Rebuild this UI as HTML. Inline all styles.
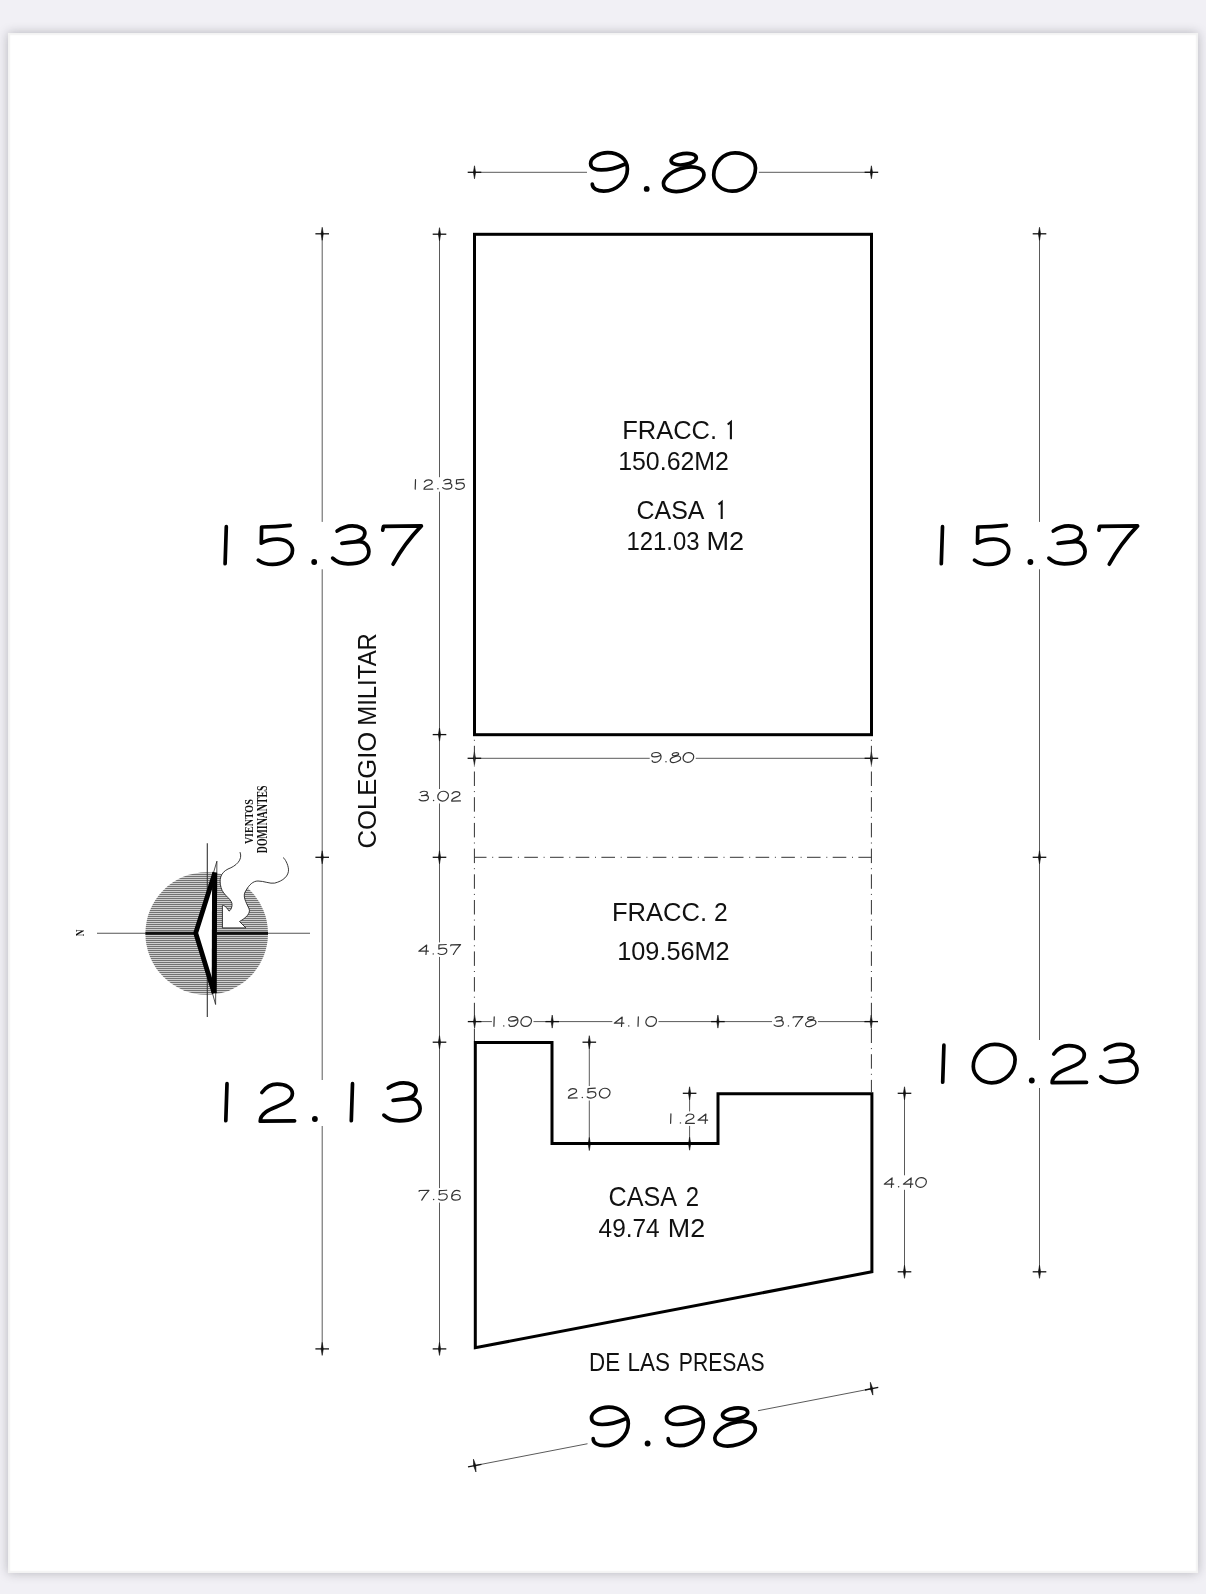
<!DOCTYPE html>
<html><head><meta charset="utf-8"><title>Plano</title>
<style>
html,body{margin:0;padding:0;}
body{width:1206px;height:1594px;background:#f1f0f5;position:relative;overflow:hidden;}
#page{position:absolute;left:8px;top:33px;width:1190px;height:1540px;background:#fff;
box-shadow:0 0 10px rgba(30,30,40,0.28), inset 0 0 1.5px 2px #f3f3f3;}
svg{position:absolute;left:0;top:0;}
text{font-family:"Liberation Sans",sans-serif;fill:#111;}
.lab{}
#wrap{position:absolute;left:0;top:0;width:1206px;height:1594px;will-change:transform;}
</style></head><body>
<div id="page"></div>
<div id="wrap"><svg width="1206" height="1594" viewBox="0 0 1206 1594">
<defs>
<pattern id="hatch" x="0" y="0" width="4" height="2" patternUnits="userSpaceOnUse">
<rect x="0" y="0" width="4" height="1" fill="#727272"/><rect x="0" y="1" width="4" height="1" fill="#cfcfcf"/>
</pattern>
</defs>

<line x1="474.50" y1="172.30" x2="871.40" y2="172.30" stroke="#5a5a5a" stroke-width="1.00" />
<g transform="translate(474.50 172.30) rotate(0.00)"><line x1="-6.80" y1="0" x2="6.80" y2="0" stroke="#111" stroke-width="1.3"/><path d="M0,-6.50 L1.1,0 L0,6.50 L-1.1,0 Z" fill="#111" stroke="#111" stroke-width="0.6"/></g>
<g transform="translate(871.40 172.30) rotate(0.00)"><line x1="-6.80" y1="0" x2="6.80" y2="0" stroke="#111" stroke-width="1.3"/><path d="M0,-6.50 L1.1,0 L0,6.50 L-1.1,0 Z" fill="#111" stroke="#111" stroke-width="0.6"/></g>
<rect x="587.00" y="150.00" width="171.80" height="47.00" fill="#fff"/>
<g transform="translate(608.70 192.90) scale(1.0000)" fill="none" stroke="#000" stroke-width="3.700" stroke-linecap="round" stroke-linejoin="round"><g transform="translate(0.00 0)"><path d="M-1,-40.3C10,-40.3 18.7,-34 18.7,-24C18.7,-12 8,-1.8 -5,-1.8C-11,-1.8 -16.4,-4 -16.4,-8.8M-1,-40.3C-10,-40.3 -18.1,-35 -18.1,-29.5C-18.1,-24.5 -12,-23 -7.5,-23C1,-23 10,-26 16,-28.7"/></g><circle cx="38.00" cy="-4" r="2.9" fill="#000" stroke="none"/><g transform="translate(75.00 0)"><ellipse cx="0" cy="-33.75" rx="12.7" ry="5.6" transform="rotate(-8 0 -33.75)"/><ellipse cx="0" cy="-13.7" rx="21" ry="11" transform="rotate(-18 0 -13.7)"/></g><g transform="translate(125.50 0)"><path d="M0.8,-40.1C12.5,-40.1 21.3,-33.3 21.3,-25C21.3,-12.3 10.5,-1.7 -2.2,-1.7C-12.6,-1.7 -20.5,-9.5 -20.5,-18C-20.5,-30 -11,-40.1 0.8,-40.1Z"/></g></g>
<line x1="322.20" y1="233.80" x2="322.20" y2="1348.90" stroke="#5a5a5a" stroke-width="1.00" />
<g transform="translate(322.20 233.80) rotate(0.00)"><line x1="-6.80" y1="0" x2="6.80" y2="0" stroke="#111" stroke-width="1.3"/><path d="M0,-6.50 L1.1,0 L0,6.50 L-1.1,0 Z" fill="#111" stroke="#111" stroke-width="0.6"/></g>
<g transform="translate(322.20 857.30) rotate(0.00)"><line x1="-6.80" y1="0" x2="6.80" y2="0" stroke="#111" stroke-width="1.3"/><path d="M0,-6.50 L1.1,0 L0,6.50 L-1.1,0 Z" fill="#111" stroke="#111" stroke-width="0.6"/></g>
<g transform="translate(322.20 1348.90) rotate(0.00)"><line x1="-6.80" y1="0" x2="6.80" y2="0" stroke="#111" stroke-width="1.3"/><path d="M0,-6.50 L1.1,0 L0,6.50 L-1.1,0 Z" fill="#111" stroke="#111" stroke-width="0.6"/></g>
<rect x="300.00" y="521.90" width="45.00" height="47.40" fill="#fff"/>
<g transform="translate(225.70 566.00) scale(1.0000)" fill="none" stroke="#000" stroke-width="3.700" stroke-linecap="round" stroke-linejoin="round"><g transform="translate(0.00 0)"><path d="M0.6,-39.3L-0.6,-2.3"/></g><g transform="translate(50.50 0)"><path d="M14,-40.7C4,-39.6 -6,-39 -14.6,-39L-14.9,-22.8C-10,-25.5 -4,-26.8 1,-26.8C10,-26.8 16.3,-22 16.3,-15.8C16.3,-7 7,-1.6 -3.6,-1.6C-9.5,-1.6 -14.5,-3.2 -17.9,-5.9"/></g><circle cx="88.50" cy="-4" r="2.9" fill="#000" stroke="none"/><g transform="translate(125.50 0)"><path d="M-14.1,-34.9C-9,-38.5 -4,-40.1 1.1,-40.1C8,-40.1 13.7,-37.5 13.7,-33C13.7,-27 6,-24.2 -1,-23.5C-4,-23.2 -7,-22.9 -9.3,-22.7C-3,-23.6 3,-24.4 8.1,-24.4C13.5,-24.4 17.7,-20 17.7,-14.4C17.7,-6 9,-2.2 -3.2,-2.2C-9.5,-2.2 -15,-4.5 -18.5,-7.9"/></g><g transform="translate(176.00 0)"><path d="M-19,-35.8L-18.2,-39.7L19.7,-40.1C8,-28 -2,-14 -8.6,-1.8"/></g></g>
<rect x="300.00" y="1080.00" width="45.00" height="46.00" fill="#fff"/>
<g transform="translate(226.40 1123.00) scale(1.0000)" fill="none" stroke="#000" stroke-width="3.700" stroke-linecap="round" stroke-linejoin="round"><g transform="translate(0.00 0)"><path d="M0.6,-39.3L-0.6,-2.3"/></g><g transform="translate(50.50 0)"><path d="M-15,-30.5C-11,-36 -5,-38.8 0.2,-38.8C9,-38.8 15.5,-35 15.5,-29.5C15.5,-19 -3,-17 -11,-11C-15,-8 -16.7,-5 -16.7,-1.8L17.7,-2.2"/></g><circle cx="88.50" cy="-4" r="2.9" fill="#000" stroke="none"/><g transform="translate(125.50 0)"><path d="M0.6,-39.3L-0.6,-2.3"/></g><g transform="translate(176.00 0)"><path d="M-14.1,-34.9C-9,-38.5 -4,-40.1 1.1,-40.1C8,-40.1 13.7,-37.5 13.7,-33C13.7,-27 6,-24.2 -1,-23.5C-4,-23.2 -7,-22.9 -9.3,-22.7C-3,-23.6 3,-24.4 8.1,-24.4C13.5,-24.4 17.7,-20 17.7,-14.4C17.7,-6 9,-2.2 -3.2,-2.2C-9.5,-2.2 -15,-4.5 -18.5,-7.9"/></g></g>
<line x1="439.50" y1="234.20" x2="439.50" y2="1348.90" stroke="#5a5a5a" stroke-width="1.00" />
<g transform="translate(439.50 234.20) rotate(0.00)"><line x1="-6.80" y1="0" x2="6.80" y2="0" stroke="#111" stroke-width="1.3"/><path d="M0,-6.50 L1.1,0 L0,6.50 L-1.1,0 Z" fill="#111" stroke="#111" stroke-width="0.6"/></g>
<g transform="translate(439.50 734.60) rotate(0.00)"><line x1="-6.80" y1="0" x2="6.80" y2="0" stroke="#111" stroke-width="1.3"/><path d="M0,-6.50 L1.1,0 L0,6.50 L-1.1,0 Z" fill="#111" stroke="#111" stroke-width="0.6"/></g>
<g transform="translate(439.50 857.30) rotate(0.00)"><line x1="-6.80" y1="0" x2="6.80" y2="0" stroke="#111" stroke-width="1.3"/><path d="M0,-6.50 L1.1,0 L0,6.50 L-1.1,0 Z" fill="#111" stroke="#111" stroke-width="0.6"/></g>
<g transform="translate(439.50 1042.20) rotate(0.00)"><line x1="-6.80" y1="0" x2="6.80" y2="0" stroke="#111" stroke-width="1.3"/><path d="M0,-6.50 L1.1,0 L0,6.50 L-1.1,0 Z" fill="#111" stroke="#111" stroke-width="0.6"/></g>
<g transform="translate(439.50 1348.90) rotate(0.00)"><line x1="-6.80" y1="0" x2="6.80" y2="0" stroke="#111" stroke-width="1.3"/><path d="M0,-6.50 L1.1,0 L0,6.50 L-1.1,0 Z" fill="#111" stroke="#111" stroke-width="0.6"/></g>
<line x1="1039.50" y1="233.80" x2="1039.50" y2="1271.80" stroke="#5a5a5a" stroke-width="1.00" />
<g transform="translate(1039.50 233.80) rotate(0.00)"><line x1="-6.80" y1="0" x2="6.80" y2="0" stroke="#111" stroke-width="1.3"/><path d="M0,-6.50 L1.1,0 L0,6.50 L-1.1,0 Z" fill="#111" stroke="#111" stroke-width="0.6"/></g>
<g transform="translate(1039.50 857.30) rotate(0.00)"><line x1="-6.80" y1="0" x2="6.80" y2="0" stroke="#111" stroke-width="1.3"/><path d="M0,-6.50 L1.1,0 L0,6.50 L-1.1,0 Z" fill="#111" stroke="#111" stroke-width="0.6"/></g>
<g transform="translate(1039.50 1271.80) rotate(0.00)"><line x1="-6.80" y1="0" x2="6.80" y2="0" stroke="#111" stroke-width="1.3"/><path d="M0,-6.50 L1.1,0 L0,6.50 L-1.1,0 Z" fill="#111" stroke="#111" stroke-width="0.6"/></g>
<rect x="1017.00" y="521.90" width="45.00" height="47.40" fill="#fff"/>
<g transform="translate(941.90 566.00) scale(1.0000)" fill="none" stroke="#000" stroke-width="3.700" stroke-linecap="round" stroke-linejoin="round"><g transform="translate(0.00 0)"><path d="M0.6,-39.3L-0.6,-2.3"/></g><g transform="translate(50.50 0)"><path d="M14,-40.7C4,-39.6 -6,-39 -14.6,-39L-14.9,-22.8C-10,-25.5 -4,-26.8 1,-26.8C10,-26.8 16.3,-22 16.3,-15.8C16.3,-7 7,-1.6 -3.6,-1.6C-9.5,-1.6 -14.5,-3.2 -17.9,-5.9"/></g><circle cx="88.50" cy="-4" r="2.9" fill="#000" stroke="none"/><g transform="translate(125.50 0)"><path d="M-14.1,-34.9C-9,-38.5 -4,-40.1 1.1,-40.1C8,-40.1 13.7,-37.5 13.7,-33C13.7,-27 6,-24.2 -1,-23.5C-4,-23.2 -7,-22.9 -9.3,-22.7C-3,-23.6 3,-24.4 8.1,-24.4C13.5,-24.4 17.7,-20 17.7,-14.4C17.7,-6 9,-2.2 -3.2,-2.2C-9.5,-2.2 -15,-4.5 -18.5,-7.9"/></g><g transform="translate(176.00 0)"><path d="M-19,-35.8L-18.2,-39.7L19.7,-40.1C8,-28 -2,-14 -8.6,-1.8"/></g></g>
<rect x="1017.00" y="1040.00" width="45.00" height="48.00" fill="#fff"/>
<g transform="translate(943.30 1084.50) scale(1.0000)" fill="none" stroke="#000" stroke-width="3.700" stroke-linecap="round" stroke-linejoin="round"><g transform="translate(0.00 0)"><path d="M0.6,-39.3L-0.6,-2.3"/></g><g transform="translate(50.50 0)"><path d="M0.8,-40.1C12.5,-40.1 21.3,-33.3 21.3,-25C21.3,-12.3 10.5,-1.7 -2.2,-1.7C-12.6,-1.7 -20.5,-9.5 -20.5,-18C-20.5,-30 -11,-40.1 0.8,-40.1Z"/></g><circle cx="88.50" cy="-4" r="2.9" fill="#000" stroke="none"/><g transform="translate(125.50 0)"><path d="M-15,-30.5C-11,-36 -5,-38.8 0.2,-38.8C9,-38.8 15.5,-35 15.5,-29.5C15.5,-19 -3,-17 -11,-11C-15,-8 -16.7,-5 -16.7,-1.8L17.7,-2.2"/></g><g transform="translate(176.00 0)"><path d="M-14.1,-34.9C-9,-38.5 -4,-40.1 1.1,-40.1C8,-40.1 13.7,-37.5 13.7,-33C13.7,-27 6,-24.2 -1,-23.5C-4,-23.2 -7,-22.9 -9.3,-22.7C-3,-23.6 3,-24.4 8.1,-24.4C13.5,-24.4 17.7,-20 17.7,-14.4C17.7,-6 9,-2.2 -3.2,-2.2C-9.5,-2.2 -15,-4.5 -18.5,-7.9"/></g></g>
<line x1="904.50" y1="1093.30" x2="904.50" y2="1271.80" stroke="#5a5a5a" stroke-width="1.00" />
<g transform="translate(904.50 1093.30) rotate(0.00)"><line x1="-6.80" y1="0" x2="6.80" y2="0" stroke="#111" stroke-width="1.3"/><path d="M0,-6.50 L1.1,0 L0,6.50 L-1.1,0 Z" fill="#111" stroke="#111" stroke-width="0.6"/></g>
<g transform="translate(904.50 1271.80) rotate(0.00)"><line x1="-6.80" y1="0" x2="6.80" y2="0" stroke="#111" stroke-width="1.3"/><path d="M0,-6.50 L1.1,0 L0,6.50 L-1.1,0 Z" fill="#111" stroke="#111" stroke-width="0.6"/></g>
<line x1="474.40" y1="758.30" x2="871.40" y2="758.30" stroke="#5a5a5a" stroke-width="1.00" />
<g transform="translate(474.40 758.30) rotate(0.00)"><line x1="-6.80" y1="0" x2="6.80" y2="0" stroke="#111" stroke-width="1.3"/><path d="M0,-6.50 L1.1,0 L0,6.50 L-1.1,0 Z" fill="#111" stroke="#111" stroke-width="0.6"/></g>
<g transform="translate(871.40 758.30) rotate(0.00)"><line x1="-6.80" y1="0" x2="6.80" y2="0" stroke="#111" stroke-width="1.3"/><path d="M0,-6.50 L1.1,0 L0,6.50 L-1.1,0 Z" fill="#111" stroke="#111" stroke-width="0.6"/></g>
<line x1="474.60" y1="1021.60" x2="871.20" y2="1021.60" stroke="#5a5a5a" stroke-width="1.00" />
<g transform="translate(474.60 1021.60) rotate(0.00)"><line x1="-6.80" y1="0" x2="6.80" y2="0" stroke="#111" stroke-width="1.3"/><path d="M0,-6.50 L1.1,0 L0,6.50 L-1.1,0 Z" fill="#111" stroke="#111" stroke-width="0.6"/></g>
<g transform="translate(552.20 1021.60) rotate(0.00)"><line x1="-6.80" y1="0" x2="6.80" y2="0" stroke="#111" stroke-width="1.3"/><path d="M0,-6.50 L1.1,0 L0,6.50 L-1.1,0 Z" fill="#111" stroke="#111" stroke-width="0.6"/></g>
<g transform="translate(717.90 1021.60) rotate(0.00)"><line x1="-6.80" y1="0" x2="6.80" y2="0" stroke="#111" stroke-width="1.3"/><path d="M0,-6.50 L1.1,0 L0,6.50 L-1.1,0 Z" fill="#111" stroke="#111" stroke-width="0.6"/></g>
<g transform="translate(871.20 1021.60) rotate(0.00)"><line x1="-6.80" y1="0" x2="6.80" y2="0" stroke="#111" stroke-width="1.3"/><path d="M0,-6.50 L1.1,0 L0,6.50 L-1.1,0 Z" fill="#111" stroke="#111" stroke-width="0.6"/></g>
<line x1="589.30" y1="1042.20" x2="589.30" y2="1144.00" stroke="#5a5a5a" stroke-width="1.00" />
<g transform="translate(589.30 1042.20) rotate(0.00)"><line x1="-6.80" y1="0" x2="6.80" y2="0" stroke="#111" stroke-width="1.3"/><path d="M0,-6.50 L1.1,0 L0,6.50 L-1.1,0 Z" fill="#111" stroke="#111" stroke-width="0.6"/></g>
<g transform="translate(589.30 1144.00) rotate(0.00)"><line x1="-6.80" y1="0" x2="6.80" y2="0" stroke="#111" stroke-width="1.3"/><path d="M0,-6.50 L1.1,0 L0,6.50 L-1.1,0 Z" fill="#111" stroke="#111" stroke-width="0.6"/></g>
<line x1="689.60" y1="1093.30" x2="689.60" y2="1143.70" stroke="#5a5a5a" stroke-width="1.00" />
<g transform="translate(689.60 1093.30) rotate(0.00)"><line x1="-6.80" y1="0" x2="6.80" y2="0" stroke="#111" stroke-width="1.3"/><path d="M0,-6.50 L1.1,0 L0,6.50 L-1.1,0 Z" fill="#111" stroke="#111" stroke-width="0.6"/></g>
<g transform="translate(689.60 1143.70) rotate(0.00)"><line x1="-6.80" y1="0" x2="6.80" y2="0" stroke="#111" stroke-width="1.3"/><path d="M0,-6.50 L1.1,0 L0,6.50 L-1.1,0 Z" fill="#111" stroke="#111" stroke-width="0.6"/></g>
<line x1="474.70" y1="1465.60" x2="871.60" y2="1388.70" stroke="#5a5a5a" stroke-width="1.00" />
<g transform="translate(474.70 1465.60) rotate(-10.97)"><line x1="-6.80" y1="0" x2="6.80" y2="0" stroke="#111" stroke-width="1.3"/><path d="M0,-6.50 L1.1,0 L0,6.50 L-1.1,0 Z" fill="#111" stroke="#111" stroke-width="0.6"/></g>
<g transform="translate(871.60 1388.70) rotate(-10.97)"><line x1="-6.80" y1="0" x2="6.80" y2="0" stroke="#111" stroke-width="1.3"/><path d="M0,-6.50 L1.1,0 L0,6.50 L-1.1,0 Z" fill="#111" stroke="#111" stroke-width="0.6"/></g>
<polygon points="587.5,1400 587.5,1452 758,1452 758,1400" fill="#fff"/>
<g transform="translate(609.60 1447.50) scale(1.0000)" fill="none" stroke="#000" stroke-width="3.700" stroke-linecap="round" stroke-linejoin="round"><g transform="translate(0.00 0)"><path d="M-1,-40.3C10,-40.3 18.7,-34 18.7,-24C18.7,-12 8,-1.8 -5,-1.8C-11,-1.8 -16.4,-4 -16.4,-8.8M-1,-40.3C-10,-40.3 -18.1,-35 -18.1,-29.5C-18.1,-24.5 -12,-23 -7.5,-23C1,-23 10,-26 16,-28.7"/></g><circle cx="38.00" cy="-4" r="2.9" fill="#000" stroke="none"/><g transform="translate(75.00 0)"><path d="M-1,-40.3C10,-40.3 18.7,-34 18.7,-24C18.7,-12 8,-1.8 -5,-1.8C-11,-1.8 -16.4,-4 -16.4,-8.8M-1,-40.3C-10,-40.3 -18.1,-35 -18.1,-29.5C-18.1,-24.5 -12,-23 -7.5,-23C1,-23 10,-26 16,-28.7"/></g><g transform="translate(125.50 0)"><ellipse cx="0" cy="-33.75" rx="12.7" ry="5.6" transform="rotate(-8 0 -33.75)"/><ellipse cx="0" cy="-13.7" rx="21" ry="11" transform="rotate(-18 0 -13.7)"/></g></g>
<rect x="413.21" y="477.20" width="53.19" height="14.50" fill="#fff"/>
<g transform="translate(439.80 489.70) scale(0.2550)" fill="none" stroke="#333" stroke-width="4.706" stroke-linecap="round" stroke-linejoin="round"><g transform="translate(-95.85 0)"><path d="M0.6,-39.3L-0.6,-2.3"/></g><g transform="translate(-45.35 0)"><path d="M-15,-30.5C-11,-36 -5,-38.8 0.2,-38.8C9,-38.8 15.5,-35 15.5,-29.5C15.5,-19 -3,-17 -11,-11C-15,-8 -16.7,-5 -16.7,-1.8L17.7,-2.2"/></g><circle cx="-7.35" cy="-4" r="2.9" fill="#333" stroke="none"/><g transform="translate(29.65 0)"><path d="M-14.1,-34.9C-9,-38.5 -4,-40.1 1.1,-40.1C8,-40.1 13.7,-37.5 13.7,-33C13.7,-27 6,-24.2 -1,-23.5C-4,-23.2 -7,-22.9 -9.3,-22.7C-3,-23.6 3,-24.4 8.1,-24.4C13.5,-24.4 17.7,-20 17.7,-14.4C17.7,-6 9,-2.2 -3.2,-2.2C-9.5,-2.2 -15,-4.5 -18.5,-7.9"/></g><g transform="translate(80.15 0)"><path d="M14,-40.7C4,-39.6 -6,-39 -14.6,-39L-14.9,-22.8C-10,-25.5 -4,-26.8 1,-26.8C10,-26.8 16.3,-22 16.3,-15.8C16.3,-7 7,-1.6 -3.6,-1.6C-9.5,-1.6 -14.5,-3.2 -17.9,-5.9"/></g></g>
<rect x="417.18" y="789.00" width="45.23" height="14.50" fill="#fff"/>
<g transform="translate(439.80 801.50) scale(0.2550)" fill="none" stroke="#333" stroke-width="4.706" stroke-linecap="round" stroke-linejoin="round"><g transform="translate(-62.35 0)"><path d="M-14.1,-34.9C-9,-38.5 -4,-40.1 1.1,-40.1C8,-40.1 13.7,-37.5 13.7,-33C13.7,-27 6,-24.2 -1,-23.5C-4,-23.2 -7,-22.9 -9.3,-22.7C-3,-23.6 3,-24.4 8.1,-24.4C13.5,-24.4 17.7,-20 17.7,-14.4C17.7,-6 9,-2.2 -3.2,-2.2C-9.5,-2.2 -15,-4.5 -18.5,-7.9"/></g><circle cx="-24.35" cy="-4" r="2.9" fill="#333" stroke="none"/><g transform="translate(12.65 0)"><path d="M0.8,-40.1C12.5,-40.1 21.3,-33.3 21.3,-25C21.3,-12.3 10.5,-1.7 -2.2,-1.7C-12.6,-1.7 -20.5,-9.5 -20.5,-18C-20.5,-30 -11,-40.1 0.8,-40.1Z"/></g><g transform="translate(63.15 0)"><path d="M-15,-30.5C-11,-36 -5,-38.8 0.2,-38.8C9,-38.8 15.5,-35 15.5,-29.5C15.5,-19 -3,-17 -11,-11C-15,-8 -16.7,-5 -16.7,-1.8L17.7,-2.2"/></g></g>
<rect x="416.83" y="942.40" width="45.74" height="14.50" fill="#fff"/>
<g transform="translate(439.70 954.90) scale(0.2550)" fill="none" stroke="#333" stroke-width="4.706" stroke-linecap="round" stroke-linejoin="round"><g transform="translate(-63.35 0)"><path d="M18.9,-14.5L-18.5,-14.5L12.3,-38.5L9.5,-1.8"/></g><circle cx="-25.35" cy="-4" r="2.9" fill="#333" stroke="none"/><g transform="translate(11.65 0)"><path d="M14,-40.7C4,-39.6 -6,-39 -14.6,-39L-14.9,-22.8C-10,-25.5 -4,-26.8 1,-26.8C10,-26.8 16.3,-22 16.3,-15.8C16.3,-7 7,-1.6 -3.6,-1.6C-9.5,-1.6 -14.5,-3.2 -17.9,-5.9"/></g><g transform="translate(62.15 0)"><path d="M-19,-35.8L-18.2,-39.7L19.7,-40.1C8,-28 -2,-14 -8.6,-1.8"/></g></g>
<rect x="417.11" y="1188.10" width="45.18" height="14.50" fill="#fff"/>
<g transform="translate(439.70 1200.60) scale(0.2550)" fill="none" stroke="#333" stroke-width="4.706" stroke-linecap="round" stroke-linejoin="round"><g transform="translate(-61.75 0)"><path d="M-19,-35.8L-18.2,-39.7L19.7,-40.1C8,-28 -2,-14 -8.6,-1.8"/></g><circle cx="-23.75" cy="-4" r="2.9" fill="#333" stroke="none"/><g transform="translate(13.25 0)"><path d="M14,-40.7C4,-39.6 -6,-39 -14.6,-39L-14.9,-22.8C-10,-25.5 -4,-26.8 1,-26.8C10,-26.8 16.3,-22 16.3,-15.8C16.3,-7 7,-1.6 -3.6,-1.6C-9.5,-1.6 -14.5,-3.2 -17.9,-5.9"/></g><g transform="translate(63.75 0)"><path d="M15,-37C11,-39.5 6,-40 2,-40C-9,-40 -17,-28 -17,-15C-17,-6 -11,-1.8 -3,-1.8C9,-1.8 17,-6 17,-12C17,-19 10,-24 1,-24C-8,-24 -15,-19 -17,-14"/></g></g>
<rect x="649.69" y="750.30" width="46.02" height="14.50" fill="#fff"/>
<g transform="translate(672.70 762.80) scale(0.2550)" fill="none" stroke="#333" stroke-width="4.706" stroke-linecap="round" stroke-linejoin="round"><g transform="translate(-64.30 0)"><path d="M-1,-40.3C10,-40.3 18.7,-34 18.7,-24C18.7,-12 8,-1.8 -5,-1.8C-11,-1.8 -16.4,-4 -16.4,-8.8M-1,-40.3C-10,-40.3 -18.1,-35 -18.1,-29.5C-18.1,-24.5 -12,-23 -7.5,-23C1,-23 10,-26 16,-28.7"/></g><circle cx="-26.30" cy="-4" r="2.9" fill="#333" stroke="none"/><g transform="translate(10.70 0)"><ellipse cx="0" cy="-33.75" rx="12.7" ry="5.6" transform="rotate(-8 0 -33.75)"/><ellipse cx="0" cy="-13.7" rx="21" ry="11" transform="rotate(-18 0 -13.7)"/></g><g transform="translate(61.20 0)"><path d="M0.8,-40.1C12.5,-40.1 21.3,-33.3 21.3,-25C21.3,-12.3 10.5,-1.7 -2.2,-1.7C-12.6,-1.7 -20.5,-9.5 -20.5,-18C-20.5,-30 -11,-40.1 0.8,-40.1Z"/></g></g>
<rect x="491.92" y="1014.40" width="41.56" height="14.50" fill="#fff"/>
<g transform="translate(512.70 1026.90) scale(0.2550)" fill="none" stroke="#333" stroke-width="4.706" stroke-linecap="round" stroke-linejoin="round"><g transform="translate(-73.05 0)"><path d="M0.6,-39.3L-0.6,-2.3"/></g><circle cx="-35.05" cy="-4" r="2.9" fill="#333" stroke="none"/><g transform="translate(1.95 0)"><path d="M-1,-40.3C10,-40.3 18.7,-34 18.7,-24C18.7,-12 8,-1.8 -5,-1.8C-11,-1.8 -16.4,-4 -16.4,-8.8M-1,-40.3C-10,-40.3 -18.1,-35 -18.1,-29.5C-18.1,-24.5 -12,-23 -7.5,-23C1,-23 10,-26 16,-28.7"/></g><g transform="translate(52.45 0)"><path d="M0.8,-40.1C12.5,-40.1 21.3,-33.3 21.3,-25C21.3,-12.3 10.5,-1.7 -2.2,-1.7C-12.6,-1.7 -20.5,-9.5 -20.5,-18C-20.5,-30 -11,-40.1 0.8,-40.1Z"/></g></g>
<rect x="612.34" y="1014.40" width="46.13" height="14.50" fill="#fff"/>
<g transform="translate(635.40 1026.90) scale(0.2550)" fill="none" stroke="#333" stroke-width="4.706" stroke-linecap="round" stroke-linejoin="round"><g transform="translate(-64.10 0)"><path d="M18.9,-14.5L-18.5,-14.5L12.3,-38.5L9.5,-1.8"/></g><circle cx="-26.10" cy="-4" r="2.9" fill="#333" stroke="none"/><g transform="translate(10.90 0)"><path d="M0.6,-39.3L-0.6,-2.3"/></g><g transform="translate(61.40 0)"><path d="M0.8,-40.1C12.5,-40.1 21.3,-33.3 21.3,-25C21.3,-12.3 10.5,-1.7 -2.2,-1.7C-12.6,-1.7 -20.5,-9.5 -20.5,-18C-20.5,-30 -11,-40.1 0.8,-40.1Z"/></g></g>
<rect x="772.05" y="1014.40" width="45.90" height="14.50" fill="#fff"/>
<g transform="translate(795.00 1026.90) scale(0.2550)" fill="none" stroke="#333" stroke-width="4.706" stroke-linecap="round" stroke-linejoin="round"><g transform="translate(-63.65 0)"><path d="M-14.1,-34.9C-9,-38.5 -4,-40.1 1.1,-40.1C8,-40.1 13.7,-37.5 13.7,-33C13.7,-27 6,-24.2 -1,-23.5C-4,-23.2 -7,-22.9 -9.3,-22.7C-3,-23.6 3,-24.4 8.1,-24.4C13.5,-24.4 17.7,-20 17.7,-14.4C17.7,-6 9,-2.2 -3.2,-2.2C-9.5,-2.2 -15,-4.5 -18.5,-7.9"/></g><circle cx="-25.65" cy="-4" r="2.9" fill="#333" stroke="none"/><g transform="translate(11.35 0)"><path d="M-19,-35.8L-18.2,-39.7L19.7,-40.1C8,-28 -2,-14 -8.6,-1.8"/></g><g transform="translate(61.85 0)"><ellipse cx="0" cy="-33.75" rx="12.7" ry="5.6" transform="rotate(-8 0 -33.75)"/><ellipse cx="0" cy="-13.7" rx="21" ry="11" transform="rotate(-18 0 -13.7)"/></g></g>
<rect x="566.37" y="1086.00" width="45.67" height="14.50" fill="#fff"/>
<g transform="translate(589.20 1098.50) scale(0.2550)" fill="none" stroke="#333" stroke-width="4.706" stroke-linecap="round" stroke-linejoin="round"><g transform="translate(-65.00 0)"><path d="M-15,-30.5C-11,-36 -5,-38.8 0.2,-38.8C9,-38.8 15.5,-35 15.5,-29.5C15.5,-19 -3,-17 -11,-11C-15,-8 -16.7,-5 -16.7,-1.8L17.7,-2.2"/></g><circle cx="-27.00" cy="-4" r="2.9" fill="#333" stroke="none"/><g transform="translate(10.00 0)"><path d="M14,-40.7C4,-39.6 -6,-39 -14.6,-39L-14.9,-22.8C-10,-25.5 -4,-26.8 1,-26.8C10,-26.8 16.3,-22 16.3,-15.8C16.3,-7 7,-1.6 -3.6,-1.6C-9.5,-1.6 -14.5,-3.2 -17.9,-5.9"/></g><g transform="translate(60.50 0)"><path d="M0.8,-40.1C12.5,-40.1 21.3,-33.3 21.3,-25C21.3,-12.3 10.5,-1.7 -2.2,-1.7C-12.6,-1.7 -20.5,-9.5 -20.5,-18C-20.5,-30 -11,-40.1 0.8,-40.1Z"/></g></g>
<rect x="668.61" y="1111.40" width="40.97" height="14.50" fill="#fff"/>
<g transform="translate(689.10 1123.90) scale(0.2550)" fill="none" stroke="#333" stroke-width="4.706" stroke-linecap="round" stroke-linejoin="round"><g transform="translate(-71.90 0)"><path d="M0.6,-39.3L-0.6,-2.3"/></g><circle cx="-33.90" cy="-4" r="2.9" fill="#333" stroke="none"/><g transform="translate(3.10 0)"><path d="M-15,-30.5C-11,-36 -5,-38.8 0.2,-38.8C9,-38.8 15.5,-35 15.5,-29.5C15.5,-19 -3,-17 -11,-11C-15,-8 -16.7,-5 -16.7,-1.8L17.7,-2.2"/></g><g transform="translate(53.60 0)"><path d="M18.9,-14.5L-18.5,-14.5L12.3,-38.5L9.5,-1.8"/></g></g>
<rect x="882.24" y="1175.30" width="46.13" height="14.50" fill="#fff"/>
<g transform="translate(905.30 1187.80) scale(0.2550)" fill="none" stroke="#333" stroke-width="4.706" stroke-linecap="round" stroke-linejoin="round"><g transform="translate(-64.10 0)"><path d="M18.9,-14.5L-18.5,-14.5L12.3,-38.5L9.5,-1.8"/></g><circle cx="-26.10" cy="-4" r="2.9" fill="#333" stroke="none"/><g transform="translate(10.90 0)"><path d="M18.9,-14.5L-18.5,-14.5L12.3,-38.5L9.5,-1.8"/></g><g transform="translate(61.40 0)"><path d="M0.8,-40.1C12.5,-40.1 21.3,-33.3 21.3,-25C21.3,-12.3 10.5,-1.7 -2.2,-1.7C-12.6,-1.7 -20.5,-9.5 -20.5,-18C-20.5,-30 -11,-40.1 0.8,-40.1Z"/></g></g>
<line x1="474.4" y1="745.8" x2="474.4" y2="1041" stroke="#333" stroke-width="1" stroke-dasharray="14.5 5.1 1 5.1"/>
<line x1="474.4" y1="739.8" x2="474.4" y2="740.8" stroke="#333" stroke-width="1"/>
<line x1="871.4" y1="745.8" x2="871.4" y2="1092" stroke="#333" stroke-width="1" stroke-dasharray="14.5 5.1 1 5.1"/>
<line x1="871.4" y1="739.8" x2="871.4" y2="740.8" stroke="#333" stroke-width="1"/>
<line x1="474.5" y1="857.3" x2="871.4" y2="857.3" stroke="#333" stroke-width="1" stroke-dasharray="13.6 5.7 1 5.4" stroke-dashoffset="1.6"/>
<rect x="474.5" y="234.3" width="397" height="500.4" fill="none" stroke="#000" stroke-width="3"/>
<path d="M475.3,1042.5 L552,1042.5 L552,1143.5 L718,1143.5 L718,1093.7 L871.9,1093.7 L871.9,1271.8 L475.3,1347.8 Z" fill="none" stroke="#000" stroke-width="3" stroke-linejoin="miter"/>
<circle cx="206.7" cy="933.5" r="61.3" fill="url(#hatch)"/>
<path d="M240,852.1 C243,860 236,866 228,869 C220,873 219,880 221,887.4 C223,896 233,899 232,905.5 C231.5,910 229,911.5 228.8,910.8 C226,906 223,905 222.4,905.5 L222.4,927.9 L245.9,927.9 L239.5,921.5 C246,918 251,913 249,908.7 C246,902 242,896 245.9,890.6 C249,885 253,881 258,881 C264,881 270,884 274.7,883.1 C283,881 289,876 288.5,869.2 C288,864 285,859 283.2,857.5" fill="#fff" stroke="#222" stroke-width="0.9"/>
<line x1="97.00" y1="933.20" x2="310.00" y2="933.20" stroke="#555" stroke-width="1.10" />
<line x1="145.50" y1="933.30" x2="268.00" y2="933.30" stroke="#111" stroke-width="3.00" />
<line x1="207.30" y1="843.30" x2="207.30" y2="1017.10" stroke="#333" stroke-width="1.10" />
<path d="M216.9,861.2 L195.7,932.9 L215.6,1004.5 Z" fill="#fff" stroke="#222" stroke-width="0.8"/>
<path d="M214.9,872.5 L195.7,932.9 L214.2,993.2" fill="none" stroke="#000" stroke-width="4.8" stroke-linejoin="miter"/>
<line x1="214.60" y1="872.50" x2="214.20" y2="993.20" stroke="#000" stroke-width="5.00" />
<g transform="translate(253.3 844.1) rotate(-90)"><text x="0" y="0" font-family="Liberation Serif" font-weight="bold" font-size="13" textLength="44.8" lengthAdjust="spacingAndGlyphs" style="font-family:'Liberation Serif',serif">VIENTOS</text></g>
<g transform="translate(267.2 853.2) rotate(-90)"><text x="0" y="0" font-weight="bold" font-size="14" textLength="67.7" lengthAdjust="spacingAndGlyphs" style="font-family:'Liberation Serif',serif">DOMINANTES</text></g>
<g transform="translate(83.9 932.9) rotate(-90)"><text x="0" y="0" font-weight="bold" text-anchor="middle" font-size="12.5" textLength="6.6" lengthAdjust="spacingAndGlyphs" style="font-family:'Liberation Serif',serif">N</text></g>
<text class="lab" x="622.20" y="439.20" font-size="26.02" textLength="94.90" lengthAdjust="spacingAndGlyphs" >FRACC.</text>
<path d="M727.70,424.50 L730.90,421.90 L730.90,439.20" fill="none" stroke="#111" stroke-width="2.10" stroke-linejoin="miter"/>
<text class="lab" x="618.20" y="469.70" font-size="26.02" textLength="110.70" lengthAdjust="spacingAndGlyphs" >150.62M2</text>
<text class="lab" x="636.60" y="518.90" font-size="25.58" textLength="67.90" lengthAdjust="spacingAndGlyphs" >CASA</text>
<path d="M718.50,504.50 L721.70,501.90 L721.70,518.90" fill="none" stroke="#111" stroke-width="2.10" stroke-linejoin="miter"/>
<text class="lab" x="626.40" y="549.70" font-size="26.02" textLength="73.10" lengthAdjust="spacingAndGlyphs" >121.03</text>
<text class="lab" x="706.40" y="549.70" font-size="26.02" textLength="37.70" lengthAdjust="spacingAndGlyphs" >M2</text>
<text class="lab" x="612.00" y="920.80" font-size="26.45" textLength="95.10" lengthAdjust="spacingAndGlyphs" >FRACC.</text>
<text class="lab" x="714.00" y="920.80" font-size="26.45" textLength="13.70" lengthAdjust="spacingAndGlyphs" >2</text>
<text class="lab" x="617.20" y="960.00" font-size="26.60" textLength="112.50" lengthAdjust="spacingAndGlyphs" >109.56M2</text>
<text class="lab" x="608.60" y="1206.00" font-size="27.03" textLength="68.50" lengthAdjust="spacingAndGlyphs" >CASA</text>
<text class="lab" x="685.80" y="1206.00" font-size="27.03" textLength="13.30" lengthAdjust="spacingAndGlyphs" >2</text>
<text class="lab" x="598.60" y="1237.00" font-size="26.60" textLength="61.10" lengthAdjust="spacingAndGlyphs" >49.74</text>
<text class="lab" x="667.80" y="1237.00" font-size="26.60" textLength="37.30" lengthAdjust="spacingAndGlyphs" >M2</text>
<text class="lab" x="589.00" y="1370.70" font-size="25.73" textLength="31.10" lengthAdjust="spacingAndGlyphs" >DE</text>
<text class="lab" x="627.40" y="1370.70" font-size="25.73" textLength="42.50" lengthAdjust="spacingAndGlyphs" >LAS</text>
<text class="lab" x="678.80" y="1370.70" font-size="25.73" textLength="85.90" lengthAdjust="spacingAndGlyphs" >PRESAS</text>
<g transform="translate(376.30 848.60) rotate(-90)"><text class="lab" x="0" y="0" font-size="26.02" textLength="116.90" lengthAdjust="spacingAndGlyphs">COLEGIO</text></g><g transform="translate(376.30 725.80) rotate(-90)"><text class="lab" x="0" y="0" font-size="26.02" textLength="92.70" lengthAdjust="spacingAndGlyphs">MILITAR</text></g>
</svg></div>
</body></html>
